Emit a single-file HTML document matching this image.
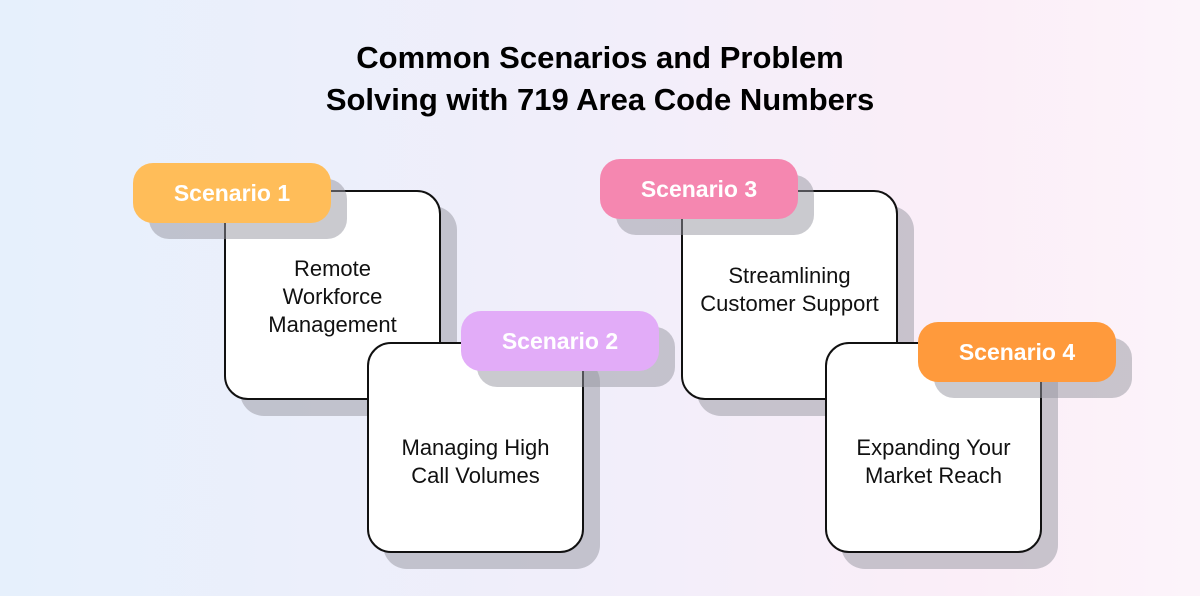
<!DOCTYPE html>
<html><head><style>
html,body{margin:0;padding:0}
body{width:1200px;height:596px;position:relative;overflow:hidden;font-family:"Liberation Sans",sans-serif;
background:linear-gradient(90deg,#e6f0fc 0%,#f1eefa 50%,#fbeef8 80%,#fcf4fa 100%);}
.t{position:absolute;left:0;width:1200px;text-align:center;font-weight:bold;font-size:31px;color:#000;line-height:42px}
.box{position:absolute;width:217px;height:210px;background:#fff;border:2px solid #111;border-radius:24px;box-sizing:border-box;
box-shadow:16px 16px 0 rgba(150,150,160,0.5);display:flex;align-items:center;justify-content:center;text-align:center;font-size:22px;line-height:28px;color:#111}
.tag{position:absolute;width:198px;height:60px;border-radius:20px;box-shadow:16px 16px 0 rgba(150,150,160,0.5);color:#fff;font-weight:bold;font-size:23px;display:flex;align-items:center;justify-content:center}
</style></head><body>
<div class="t" style="top:37px">Common Scenarios and Problem</div>
<div class="t" style="top:79px">Solving with 719 Area Code Numbers</div>

<div class="box" style="left:224px;top:190px"><span style="margin-top:4px">Remote<br>Workforce<br>Management</span></div>
<div class="tag" style="left:133px;top:163px;background:#ffbd59">Scenario 1</div>
<div class="box" style="left:367px;top:342px;height:211px"><span style="margin-top:28px">Managing High<br>Call Volumes</span></div>
<div class="tag" style="left:461px;top:311px;background:#e2acf8">Scenario 2</div>

<div class="box" style="left:681px;top:190px"><span style="margin-top:-10px">Streamlining<br>Customer Support</span></div>
<div class="tag" style="left:600px;top:159px;background:#f587b0">Scenario 3</div>
<div class="box" style="left:825px;top:342px;height:211px"><span style="margin-top:28px">Expanding Your<br>Market Reach</span></div>
<div class="tag" style="left:918px;top:322px;background:#ff9a3c">Scenario 4</div>
</body></html>
